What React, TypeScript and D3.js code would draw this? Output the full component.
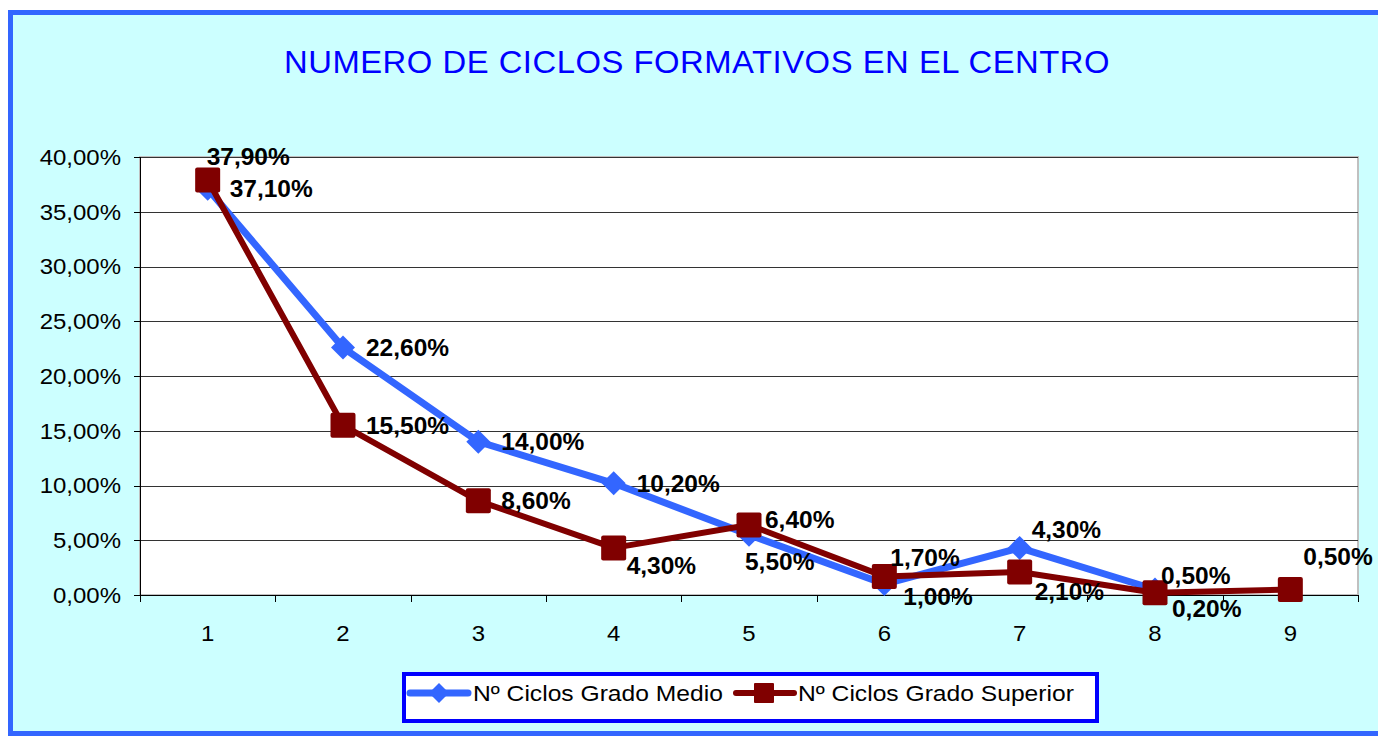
import React from "react";
import * as d3 from "d3";

const categories = ["1", "2", "3", "4", "5", "6", "7", "8", "9"];
const gradoMedio: (number | null)[] = [37.1, 22.6, 14.0, 10.2, 5.5, 1.0, 4.3, 0.5, null];
const gradoSuperior: number[] = [37.9, 15.5, 8.6, 4.3, 6.4, 1.7, 2.1, 0.2, 0.5];
const yTicks = [0, 5, 10, 15, 20, 25, 30, 35, 40];
const seriesNames = ["Nº Ciclos Grado Medio", "Nº Ciclos Grado Superior"];
const title = "NUMERO DE CICLOS FORMATIVOS EN EL CENTRO";

// label offsets (styling): [dx, dy] relative to the point
const medioLabelOffsets = [[22, 0], [23, 0], [23, 0], [23, 0], [-4, 27], [19, 13], [12, -18], [6, -14], [0, 0]];
const superiorLabelOffsets = [[-1, -23], [23, 0], [23, 0], [13, 18], [16, -5], [6, -19], [15, 20], [17, 16], [13, -33]];

const BLUE = "#3366FF";
const RED = "#800000";
const fmt = (v: number) => v.toFixed(2).replace(".", ",") + "%";

function SText(props: {
  x: number; y: number; sx: number; size: number; anchor?: "start" | "middle" | "end";
  bold?: boolean; children: React.ReactNode;
}) {
  const { x, y, sx, size, anchor = "start", bold, children } = props;
  return (
    <g transform={`translate(${x},${y}) scale(${sx},1)`}>
      <text x={0} y={0} dy="0.36em" textAnchor={anchor} fontSize={size} fontWeight={bold ? "bold" : "normal"} fill="#000">
        {children}
      </text>
    </g>
  );
}

export default function App() {
  const W = 1378, H = 736;
  const left = 140, right = 1358, top = 157, bottom = 595;
  const x = d3.scaleBand<string>().domain(categories).range([left, right]);
  const cx = (c: string) => (x(c) as number) + x.bandwidth() / 2;
  const y = d3.scaleLinear().domain([0, 40]).range([bottom, top]);

  const lineGen = d3
    .line<number | null>()
    .defined((d) => d !== null)
    .x((_, i) => cx(categories[i]))
    .y((d) => y(d as number));

  const font = "'Liberation Sans', Arial, sans-serif";
  const diamond = (px: number, py: number, r: number) =>
    `M${px},${py - r}L${px + r},${py}L${px},${py + r}L${px - r},${py}Z`;

  return (
    <svg width={W} height={H} style={{ position: "absolute", left: 0, top: 0, display: "block" }} fontFamily={font}>
      <rect x={0} y={0} width={W} height={H} fill="#ffffff" />
      <rect x={10.5} y={12.5} width={W + 20} height={721} fill="#CCFFFF" stroke={BLUE} strokeWidth={5} />
      <text x={284} y={73} fontSize={31} fill="#0000FF" letterSpacing={0.5} textLength={826} lengthAdjust="spacingAndGlyphs">
        {title}
      </text>

      {/* plot area */}
      <rect x={left} y={top} width={right - left} height={bottom - top} fill="#ffffff" stroke="#C0C0C0" strokeWidth={2} />
      {yTicks.slice(1).map((t) => (
        <line key={t} x1={left} x2={right} y1={Math.round(y(t)) + 0.5} y2={Math.round(y(t)) + 0.5} stroke="#333" strokeWidth={1} />
      ))}
      <line x1={left + 0.5} x2={left + 0.5} y1={top} y2={bottom} stroke="#000" />
      <line x1={left} x2={right} y1={bottom + 0.5} y2={bottom + 0.5} stroke="#000" />
      {yTicks.map((t) => (
        <g key={t}>
          <line x1={left - 6} x2={left} y1={Math.round(y(t)) + 0.5} y2={Math.round(y(t)) + 0.5} stroke="#000" />
          <SText x={121} y={y(t)} sx={1.09} size={22} anchor="end">{fmt(t)}</SText>
        </g>
      ))}
      {[...categories.map((c) => x(c) as number), right].map((tx, i) => (
        <line key={i} x1={Math.round(tx) + 0.5} x2={Math.round(tx) + 0.5} y1={bottom} y2={bottom + 7} stroke="#000" />
      ))}
      {categories.map((c) => (
        <SText key={c} x={cx(c)} y={633} sx={1.09} size={22} anchor="middle">{c}</SText>
      ))}

      {/* series */}
      <path d={lineGen(gradoMedio) || ""} fill="none" stroke={BLUE} strokeWidth={7} strokeLinejoin="round" />
      {gradoMedio.map((v, i) =>
        v === null ? null : <path key={"dm" + i} d={diamond(cx(categories[i]), y(v), 12)} fill={BLUE} />
      )}
      <path d={lineGen(gradoSuperior) || ""} fill="none" stroke={RED} strokeWidth={6} strokeLinejoin="round" />
      {gradoSuperior.map((v, i) => (
        <rect key={"sq" + i} x={cx(categories[i]) - 12.5} y={y(v) - 12.5} width={25} height={25} rx={2} fill={RED} />
      ))}

      {/* data labels */}
      {gradoMedio.map((v, i) =>
        v === null ? null : (
          <SText key={"lm" + i} x={cx(categories[i]) + medioLabelOffsets[i][0]} y={y(v) + medioLabelOffsets[i][1]}
            sx={1.065} size={23} bold>
            {fmt(v)}
          </SText>
        )
      )}
      {gradoSuperior.map((v, i) => (
        <SText key={"ls" + i} x={cx(categories[i]) + superiorLabelOffsets[i][0]} y={y(v) + superiorLabelOffsets[i][1]}
          sx={1.065} size={23} bold>
          {fmt(v)}
        </SText>
      ))}

      {/* legend */}
      <rect x={404} y={674} width={693} height={47} fill="#ffffff" stroke="#0000FF" strokeWidth={4} />
      <line x1={410} x2={468} y1={693} y2={693} stroke={BLUE} strokeWidth={7} strokeLinecap="round" />
      <path d={diamond(439, 693, 10)} fill={BLUE} />
      <SText x={473} y={693} sx={1.12} size={22}>{seriesNames[0]}</SText>
      <line x1={736} x2={794} y1={693} y2={693} stroke={RED} strokeWidth={6} strokeLinecap="round" />
      <rect x={754} y={683} width={20} height={20} rx={1} fill={RED} />
      <SText x={798} y={693} sx={1.12} size={22}>{seriesNames[1]}</SText>
    </svg>
  );
}
